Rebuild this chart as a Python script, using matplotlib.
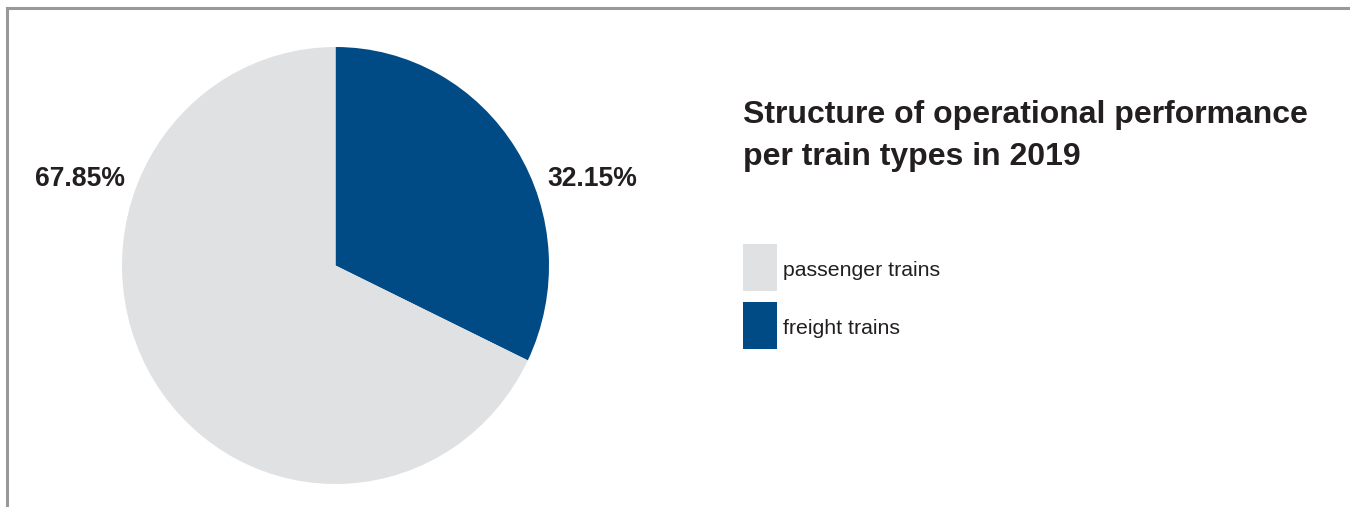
import matplotlib.pyplot as plt
from matplotlib.patches import Rectangle
from matplotlib.lines import Line2D

# share of operational performance, 2019
labels = ['passenger trains', 'freight trains']
shares = [67.85, 32.15]
colors = ['#e0e1e3', '#004b85']
title = 'Structure of operational performance\nper train types in 2019'

plt.rcParams['font.family'] = ['Liberation Sans', 'DejaVu Sans']
txt = '#231f20'

fig = plt.figure(figsize=(13.5, 5.07), dpi=100)
W, H = 1350, 507

# frame lines on top and left
fig.add_artist(Line2D([7 / W, 1], [1 - 8 / H, 1 - 8 / H], transform=fig.transFigure,
                      color='#999999', lw=2.2))
fig.add_artist(Line2D([7 / W, 7 / W], [0, 1 - 8 / H], transform=fig.transFigure,
                      color='#999999', lw=2.2))

# pie axes placed in pixels
ax = fig.add_axes([122 / W, (H - 484) / H, 427 / W, 437 / H])
# draw freight first, clockwise from 12 o'clock
ax.pie(shares[::-1], colors=colors[::-1], startangle=90, counterclock=False,
       radius=1, wedgeprops=dict(linewidth=0))
ax.set_aspect('auto')
ax.set_xlim(-1, 1)
ax.set_ylim(-1, 1)
ax.axis('off')

# value labels
fig.text(80 / W, 1 - 179 / H, f'{shares[0]:.2f}%', ha='center', va='center',
         fontsize=19.1, fontweight='bold', color=txt)
fig.text(592 / W, 1 - 179 / H, f'{shares[1]:.2f}%', ha='center', va='center',
         fontsize=19.1, fontweight='bold', color=txt)

# title
fig.text(743 / W, 1 - 136 / H, title, ha='left', va='center', fontsize=23,
         fontweight='bold', color=txt, linespacing=1.56)

# legend
for i, (lab, col) in enumerate(zip(labels, colors)):
    top = 244 + i * 58
    fig.add_artist(Rectangle((743 / W, 1 - (top + 47) / H), 34 / W, 47 / H,
                             transform=fig.transFigure, color=col, lw=0))
    fig.text(783 / W, 1 - (top + 27) / H, lab, ha='left', va='center',
             fontsize=15.3, color=txt)

fig.savefig('out.png', dpi=100)
